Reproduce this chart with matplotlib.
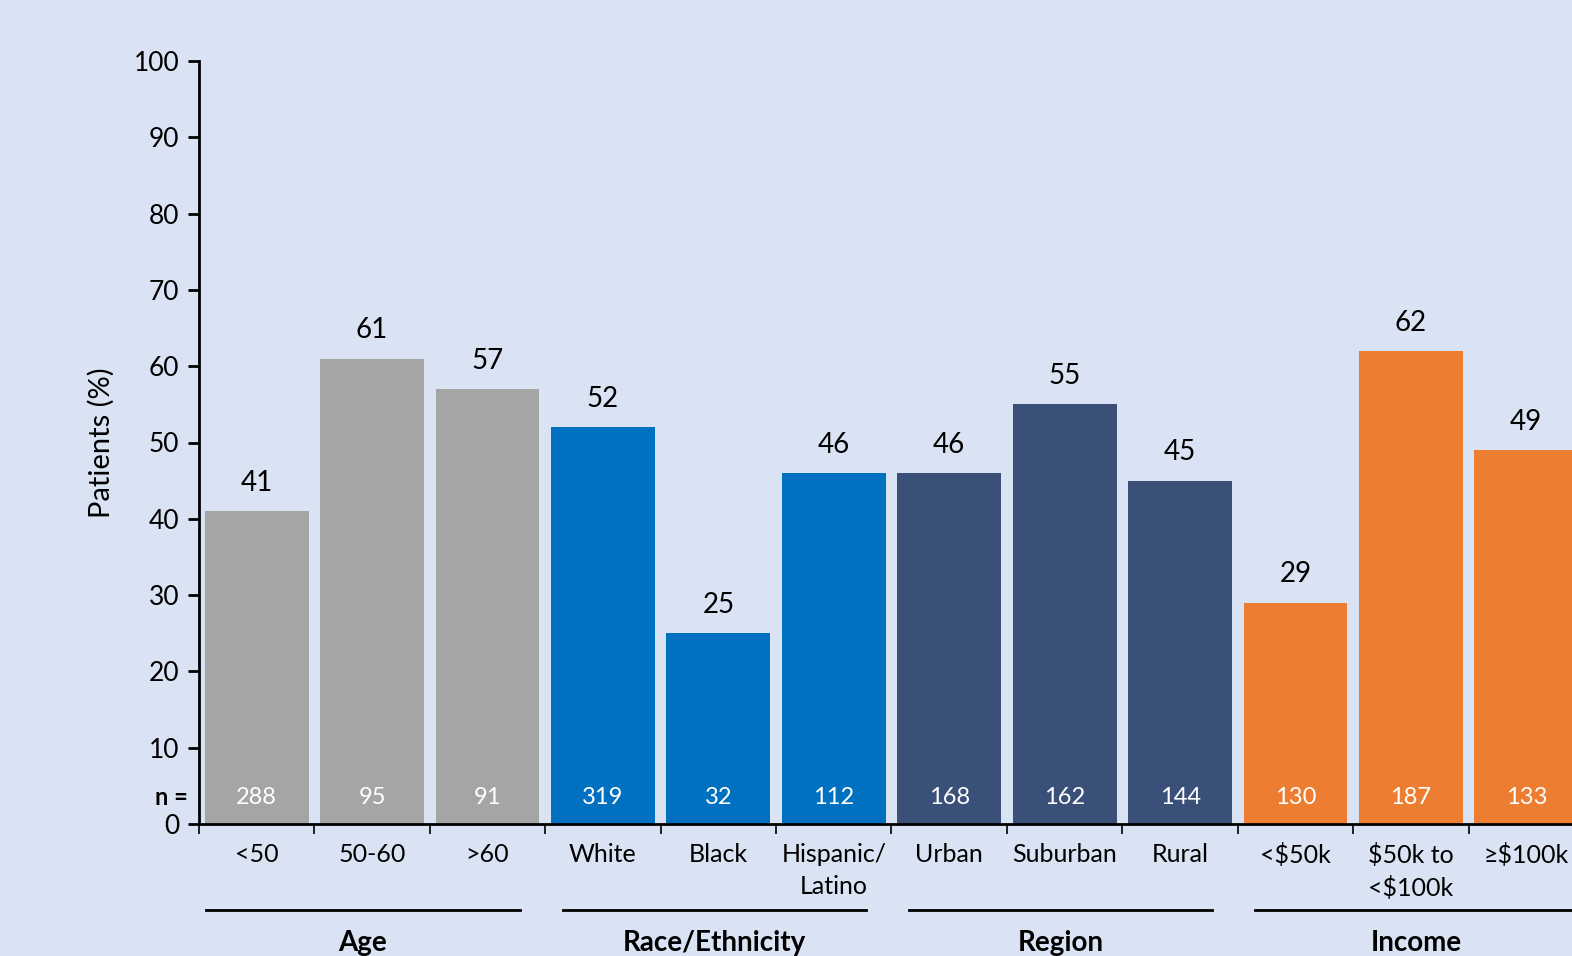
import matplotlib.pyplot as plt

plt.rcParams['font.family'] = ['Lato', 'DejaVu Sans']

categories = ['<50', '50-60', '>60', 'White', 'Black', 'Hispanic/\nLatino',
              'Urban', 'Suburban', 'Rural', '<$50k', '$50k to\n<$100k', '≥$100k']
values = [41, 61, 57, 52, 25, 46, 46, 55, 45, 29, 62, 49]
n_counts = [288, 95, 91, 319, 32, 112, 168, 162, 144, 130, 187, 133]
groups = ['Age', 'Race/Ethnicity', 'Region', 'Income']
group_sizes = [3, 3, 3, 3]
group_colors = ['#a5a5a5', '#0070c0', '#3a5079', '#ed7d31']

bg = '#dae3f3'
fig = plt.figure(figsize=(15.72, 9.56), dpi=100, facecolor=bg)
# axes run past the right edge of the figure, as in the reference
ax = fig.add_axes([199 / 1572, 1 - 824 / 956, 1385 / 1572, 763 / 956])
ax.set_facecolor(bg)

colors = []
for c, s in zip(group_colors, group_sizes):
    colors += [c] * s

x = list(range(len(categories)))
ax.bar(x, values, width=0.9, color=colors, zorder=2)
ax.set_xlim(-0.5, len(categories) - 0.5)
ax.set_ylim(0, 100)

for xi, v, n in zip(x, values, n_counts):
    ax.text(xi, v + 2.0, str(v), ha='center', va='bottom', fontsize=20, color='black')
    ax.text(xi, 3.5, str(n), ha='center', va='center', fontsize=17, color='white')

ax.text(-0.6, 3.5, 'n =', ha='right', va='center', fontsize=17, fontweight='bold')

for s in ['top', 'right']:
    ax.spines[s].set_visible(False)
ax.spines['left'].set_linewidth(2)
ax.spines['bottom'].set_linewidth(2)

ax.set_yticks(range(0, 101, 10))
ax.set_yticklabels(['0'] + [str(t) for t in range(10, 101, 10)])
ax.tick_params(axis='y', labelsize=19, width=2, length=8, pad=6)
ax.set_xticks([i - 0.5 for i in range(len(categories) + 1)], minor=True)
ax.set_xticks(x)
ax.set_xticklabels(categories, fontsize=18, linespacing=1.45, va='top')
ax.tick_params(axis='x', which='major', length=0, pad=14)
ax.tick_params(axis='x', which='minor', length=7, width=1.2)
ax.set_ylabel('Patients (%)', fontsize=21, labelpad=14)

# group brackets under the tick labels
start = 0
for i, (g, s) in enumerate(zip(groups, group_sizes)):
    x0 = start - (0.44 if i == 0 else 0.35)
    x1 = start + s - 1 + 0.28
    if i == len(groups) - 1:
        x1 = start + s - 1 + 0.45
    ax.plot([x0, x1], [-11.3, -11.3], color='black', lw=2, clip_on=False)
    ax.text((x0 + x1) / 2, -15.6, g, ha='center', va='center', fontsize=20,
            fontweight='bold', clip_on=False)
    start += s

fig.savefig('out.png', dpi=100, facecolor=bg)
